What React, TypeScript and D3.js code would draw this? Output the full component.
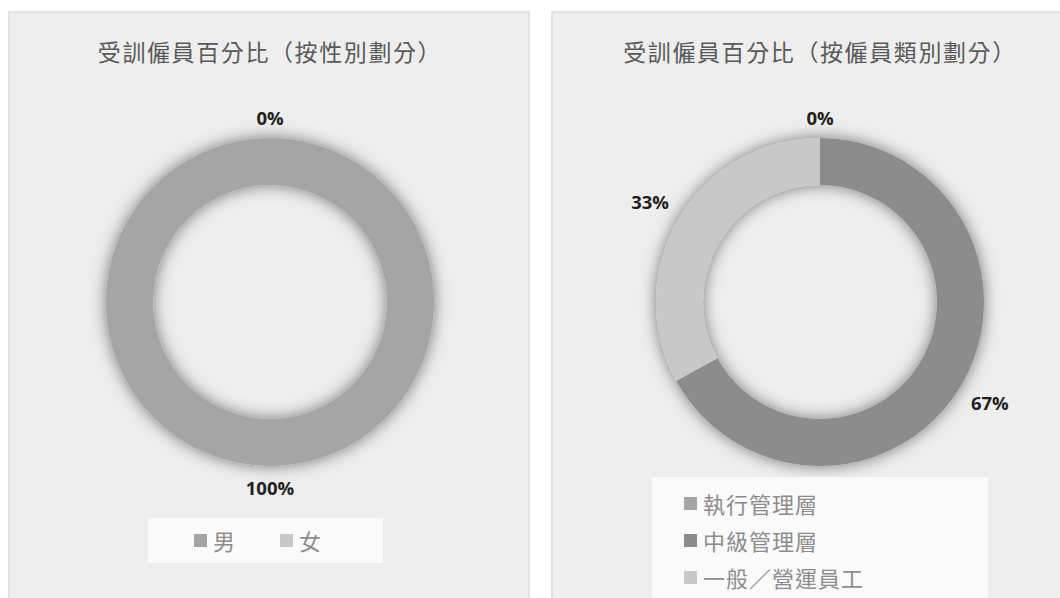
import React from "react";
import * as d3 from "d3";

const genderTitle = "受訓僱員百分比（按性別劃分）";
const genderCategories = ["男", "女"];
const genderValues = [100, 0];
const genderColors = ["#a5a5a5", "#c8c8c8"];

const typeTitle = "受訓僱員百分比（按僱員類別劃分）";
const typeCategories = ["執行管理層", "中級管理層", "一般／營運員工"];
const typeValues = [0, 67, 33];
const typeColors = ["#a5a5a5", "#8c8c8c", "#c8c8c8"];

const W = 1060;
const H = 598;
const OUTER = 164;
const INNER = 117;

function Donut({ cx, cy, values, colors }: { cx: number; cy: number; values: number[]; colors: string[] }) {
  const pie = d3.pie<number>().sort(null).value((d) => d)(values);
  const arc = d3.arc<d3.PieArcDatum<number>>().innerRadius(INNER).outerRadius(OUTER);
  const total = d3.sum(values);
  return (
    <g transform={`translate(${cx},${cy})`}>
      <g filter="url(#shadow)">
        {pie.map((p, i) =>
          p.endAngle - p.startAngle > 0 ? <path key={i} d={arc(p) || ""} fill={colors[i]} /> : null
        )}
      </g>
      {pie.map((p, i) => {
        const a = (p.startAngle + p.endAngle) / 2;
        const pct = Math.round((values[i] / total) * 100) + "%";
        const halfW = pct.length * 6.5;
        const halfH = 9;
        const r = OUTER + 12 + Math.abs(Math.sin(a)) * halfW + Math.abs(Math.cos(a)) * halfH;
        const x = Math.sin(a) * r;
        const y = -Math.cos(a) * r;
        return (
          <text
            key={"l" + i}
            x={x}
            y={y}
            textAnchor="middle"
            dominantBaseline="central"
            fontFamily="'Open Sans', 'Noto Sans', sans-serif"
            fontWeight={700}
            fontSize={18.5}
            fill="#231f20"
          >
            {pct}
          </text>
        );
      })}
    </g>
  );
}

export default function App() {
  return (
    <svg
      width={W}
      height={H}
      style={{ position: "absolute", left: 0, top: 0, background: "#ffffff" }}
      fontFamily="'Noto Sans CJK TC', sans-serif"
    >
      <defs>
        <filter id="shadow" x="-30%" y="-30%" width="160%" height="160%">
          <feDropShadow dx="0" dy="0" stdDeviation="8" floodColor="#000" floodOpacity="0.5" />
        </filter>
      </defs>
      {/* Left panel */}
      <rect x={9} y={12} width={520} height={600} fill="#eeeeee" stroke="#e2e2e2" strokeWidth={2} />
      <text x={270} y={51} textAnchor="middle" dominantBaseline="central" fontSize={23} letterSpacing={1.6} fill="#595959">
        {genderTitle}
      </text>
      <Donut cx={270} cy={302} values={genderValues} colors={genderColors} />
      <rect x={148} y={518} width={235} height={45} fill="#fafafa" />
      {genderCategories.map((c, i) => (
        <g key={c} transform={`translate(194,540)`}>
          <rect x={i * 86} y={-6} width={13} height={13} fill={genderColors[i]} />
          <text x={i * 86 + 19} y={0} dominantBaseline="central" fontSize={22} fill="#8c8c8c">
            {c}
          </text>
        </g>
      ))}

      {/* Right panel */}
      <rect x={552} y={12} width={520} height={600} fill="#eeeeee" stroke="#e2e2e2" strokeWidth={2} />
      <text x={820} y={51} textAnchor="middle" dominantBaseline="central" fontSize={23} letterSpacing={1.6} fill="#595959">
        {typeTitle}
      </text>
      <Donut cx={820} cy={302} values={typeValues} colors={typeColors} />
      <rect x={652} y={477} width={336} height={125} fill="#fafafa" />
      {typeCategories.map((c, i) => (
        <g key={c} transform={`translate(684,503)`}>
          <rect x={0} y={i * 37 - 6} width={13} height={13} fill={typeColors[i]} />
          <text x={19} y={i * 37} dominantBaseline="central" fontSize={22} letterSpacing={1} fill="#8c8c8c">
            {c}
          </text>
        </g>
      ))}
    </svg>
  );
}
